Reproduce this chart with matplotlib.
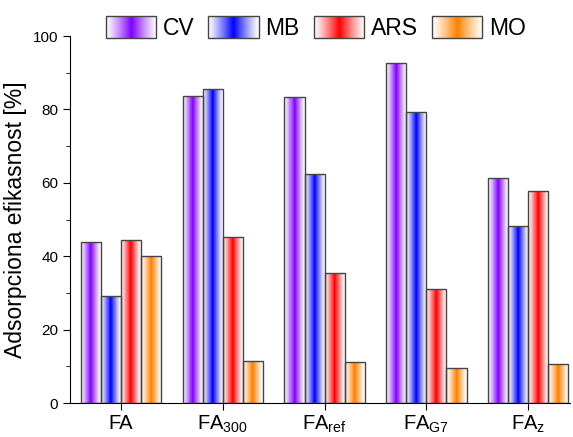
import numpy as np
import matplotlib
matplotlib.use('Agg')
import matplotlib.pyplot as plt
from matplotlib.colors import LinearSegmentedColormap
from matplotlib.legend_handler import HandlerBase
from matplotlib.image import BboxImage
from matplotlib.transforms import Bbox, TransformedBbox
from matplotlib.patches import Rectangle
from matplotlib.ticker import MultipleLocator

plt.rcParams['font.family'] = ['Liberation Sans', 'DejaVu Sans']
plt.rcParams['mathtext.fontset'] = 'custom'
plt.rcParams['mathtext.rm'] = 'Liberation Sans'
plt.rcParams['mathtext.it'] = 'Liberation Sans'

# data
samples = ['FA', 'FA$_{300}$', 'FA$_{ref}$', 'FA$_{G7}$', 'FA$_{z}$']
dyes = ['CV', 'MB', 'ARS', 'MO']
cv = [44.0, 83.6, 83.5, 92.7, 61.4]
mb = [29.2, 85.5, 62.4, 79.3, 48.2]
ars = [44.4, 45.3, 35.3, 31.1, 57.7]
mo = [40.1, 11.4, 11.2, 9.6, 10.6]
dye_colors = ['#8000ff', '#0000ff', '#ff0000', '#ff8000']

series = [cv, mb, ars, mo]

# horizontal gradient: white at edges, full colour in the middle
n = 40
t = (np.arange(n) + 0.5) / n
grad = ((1 - np.abs(2 * t - 1)) ** 1.2).reshape(1, -1)
cmaps = [LinearSegmentedColormap.from_list('g' + d, ['white', c]) for d, c in zip(dyes, dye_colors)]


class GradHandler(HandlerBase):
    def __init__(self, cmap):
        super().__init__()
        self.cmap = cmap

    def create_artists(self, legend, orig_handle, xdescent, ydescent, width, height, fontsize, trans):
        bb = TransformedBbox(Bbox.from_bounds(-xdescent, -ydescent, width, height), trans)
        img = BboxImage(bb, cmap=self.cmap, norm=plt.Normalize(0, 1), interpolation='bilinear')
        img.set_data(grad)
        box = Rectangle((-xdescent, -ydescent), width, height, fill=False,
                        edgecolor='#444444', linewidth=1.0, transform=trans)
        return [img, box]


fig = plt.figure(figsize=(5.73, 4.37), dpi=100)
ax = fig.add_axes([0.1222, 0.0778, 0.8726, 0.8398])

x = np.arange(len(samples))
w = 0.197
handles = []
for i, vals in enumerate(series):
    bars = ax.bar(x + (i - 1.5) * w, vals, width=w, fill=False,
                  edgecolor='#444444', linewidth=1.0, zorder=3)
    for b in bars:
        xe = np.linspace(b.get_x(), b.get_x() + b.get_width(), n + 1)
        ax.pcolormesh(xe, [0, b.get_height()], grad, cmap=cmaps[i],
                      vmin=0, vmax=1, shading='flat', zorder=2, linewidth=0)
    handles.append(bars)

ax.set_xlim(-0.5, 4.41)
ax.set_ylim(0, 100)
ax.set_xticks(x)
ax.set_xticklabels(samples, fontsize=14.5)
ax.yaxis.set_major_locator(MultipleLocator(20))
ax.yaxis.set_minor_locator(MultipleLocator(10))
ax.tick_params(axis='y', which='major', direction='out', length=5, labelsize=11)
ax.tick_params(axis='y', which='minor', direction='out', length=3)
ax.tick_params(axis='x', which='major', direction='out', length=5, pad=3)
ax.spines['top'].set_visible(False)
ax.spines['right'].set_visible(False)
ax.set_ylabel('Adsorpciona efikasnost [%]', fontsize=16.5, labelpad=4)

fig.legend(handles, dyes, handler_map={h: GradHandler(c) for h, c in zip(handles, cmaps)},
           loc='center', bbox_to_anchor=(0.551, 0.936), ncol=4, frameon=False,
           fontsize=16.5, handlelength=2.2, handleheight=1.07, handletextpad=0.3,
           columnspacing=0.6, borderpad=0)

fig.savefig('out.png', dpi=100)
